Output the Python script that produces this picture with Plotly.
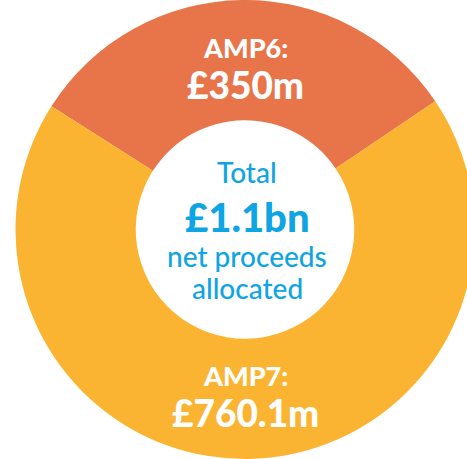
import plotly.graph_objects as go

# Data
labels = ["AMP6", "AMP7"]
values = [350, 760.1]
value_text = ["£350m", "£760.1m"]
colors = ["#E8744A", "#FBB431"]
center_lines = ["Total", "£1.1bn", "net proceeds", "allocated"]

W, H = 490, 459

fig = go.Figure(
    go.Pie(
        labels=labels,
        values=values,
        hole=0.476,
        sort=False,
        direction="clockwise",
        rotation=-57.5,
        marker=dict(colors=colors, line=dict(width=0)),
        textinfo="none",
        hoverinfo="skip",
        showlegend=False,
        domain=dict(x=[0, 1], y=[0, 1]),
    )
)

white = "#FFFFFF"
blue = "#0FA4E3"
heavy = "Lato Black, Lato Heavy, Lato"
med = "Lato Medium, Lato"


def py(p):
    return 1 - p / H


ann = []
# slice labels
ann.append(dict(text=labels[0] + ":", x=0.5, y=py(47), font=dict(size=27, color=white, family=heavy, weight=900)))
ann.append(dict(text=value_text[0], x=0.5, y=py(84), font=dict(size=37, color=white, family=heavy, weight=900)))
ann.append(dict(text=labels[1] + ":", x=0.5, y=py(375), font=dict(size=27, color=white, family=heavy, weight=900)))
ann.append(dict(text=value_text[1], x=0.5, y=py(412), font=dict(size=37, color=white, family=heavy, weight=900)))
# center
cx = 247 / W
ann.append(dict(text=center_lines[0], x=cx, y=py(172), font=dict(size=28, color=blue, family=med, weight=500)))
ann.append(dict(text=center_lines[1], x=cx, y=py(217), font=dict(size=40, color=blue, family=heavy, weight=900)))
ann.append(dict(text=center_lines[2], x=cx, y=py(256), font=dict(size=28, color=blue, family=med, weight=500)))
ann.append(dict(text=center_lines[3], x=cx, y=py(288), font=dict(size=28, color=blue, family=med, weight=500)))

for a in ann:
    a.update(xref="paper", yref="paper", showarrow=False, xanchor="center", yanchor="middle")

fig.update_layout(
    width=W,
    height=H,
    margin=dict(l=0, r=0, t=0, b=0),
    paper_bgcolor="white",
    plot_bgcolor="white",
    annotations=ann,
)

fig.write_html(
    "out.html",
    config={"displayModeBar": False},
    post_script="document.body.style.margin='0';document.body.style.overflow='hidden';document.documentElement.style.overflow='hidden';",
)
